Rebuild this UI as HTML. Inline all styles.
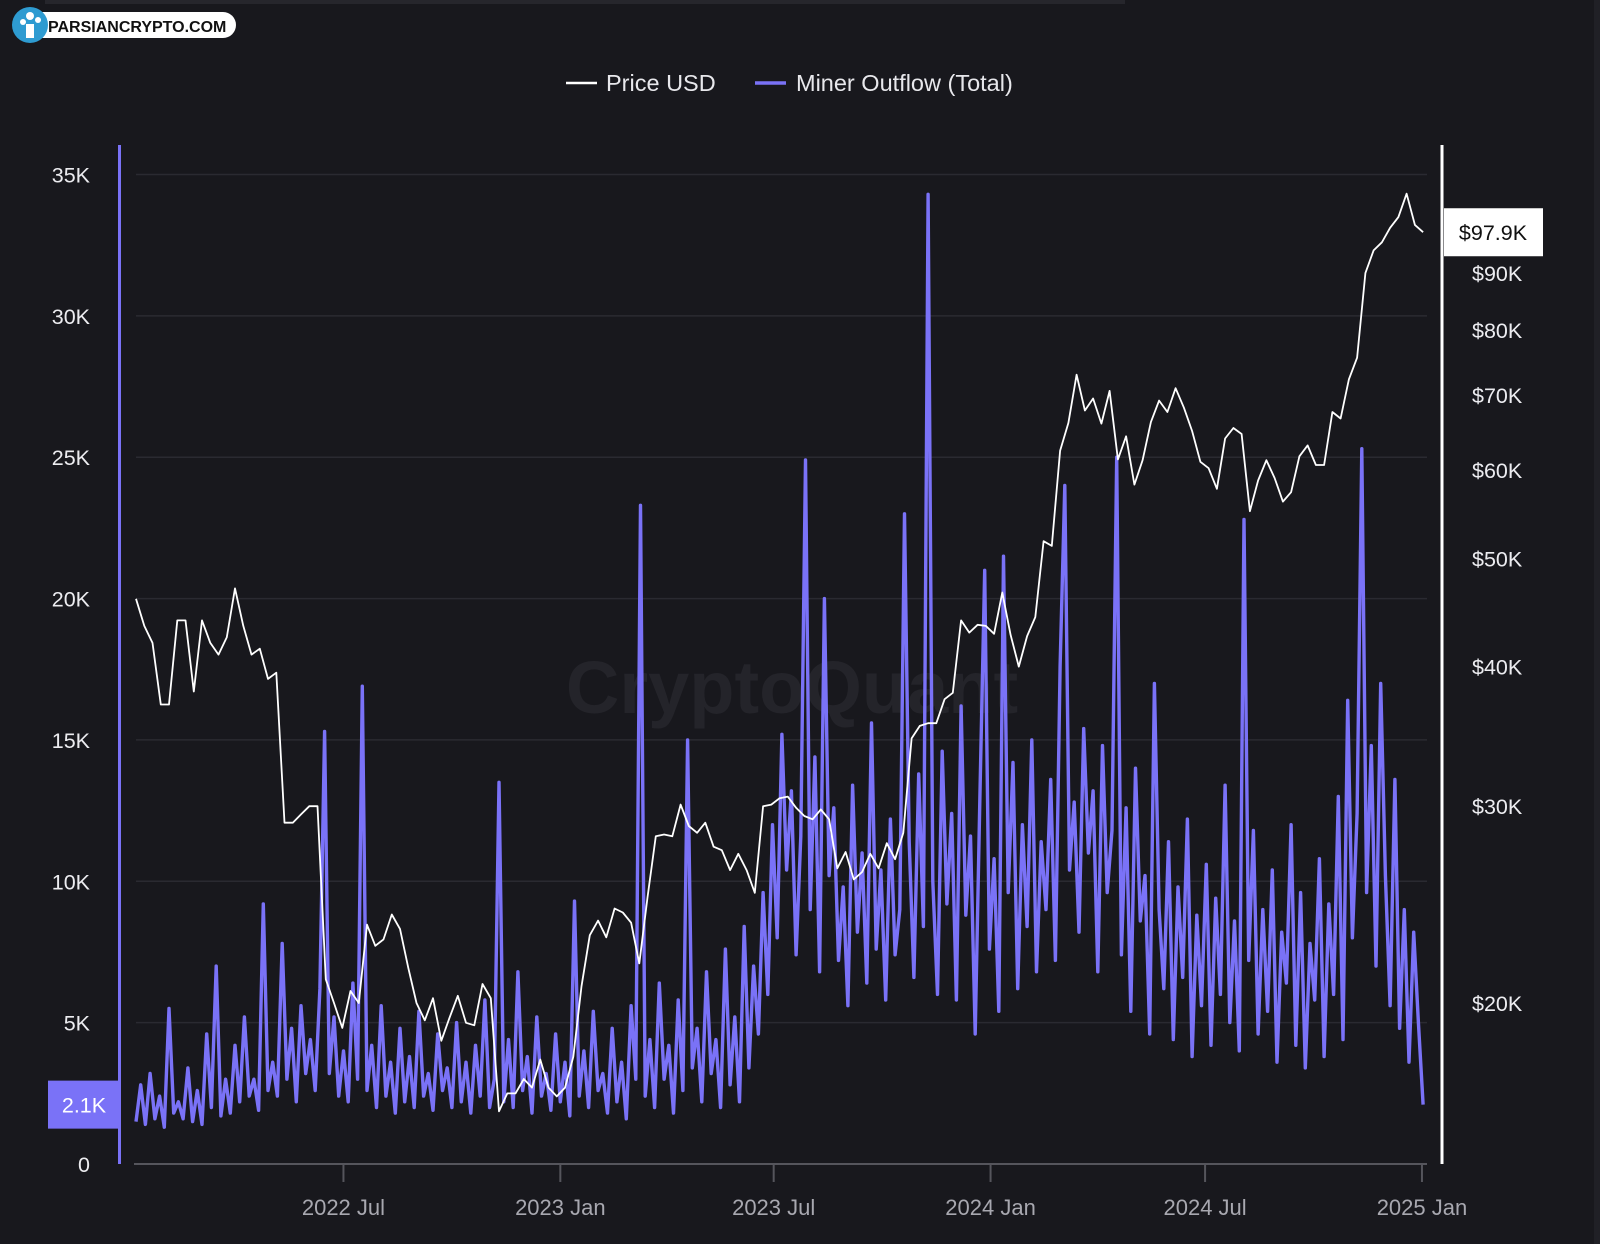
<!DOCTYPE html>
<html><head><meta charset="utf-8"><style>
html,body{margin:0;padding:0;background:#18181d;}
svg{display:block;font-family:"Liberation Sans",sans-serif;}
</style></head><body>
<svg id="chart" width="1600" height="1244" viewBox="0 0 1600 1244">
<rect x="0" y="0" width="1600" height="1244" fill="#18181d"/>
<rect x="45" y="0" width="1080" height="4" fill="#26262c"/>
<rect x="1594" y="0" width="6" height="1244" fill="#202026"/>
<g>
<rect x="26" y="12" width="210" height="26" rx="13" fill="#fff"/>
<circle cx="30" cy="25" r="18" fill="#2e9bd1"/>
<circle cx="30" cy="16" r="4" fill="#fff"/><circle cx="23" cy="22" r="3" fill="#fff"/><circle cx="38" cy="20" r="3" fill="#fff"/>
<rect x="26" y="24" width="8" height="14" fill="#fff"/>
<text x="48" y="32" font-size="16" font-weight="bold" fill="#111">PARSIANCRYPTO.COM</text>
</g>
<g>
<g><line x1="566" y1="83" x2="597" y2="83" stroke="#fff" stroke-width="2.5"/><text x="606" y="91" font-size="23.5" fill="#e8e8ec">Price USD</text></g>
<g><line x1="755" y1="83" x2="786" y2="83" stroke="#7a72f7" stroke-width="3.5"/><text x="796" y="91" font-size="23.5" fill="#e8e8ec">Miner Outflow (Total)</text></g>
</g>
<text x="792" y="713" font-size="74" font-weight="bold" fill="#24242a" text-anchor="middle">CryptoQuant</text>
<g id="grid"></g><g id="series"></g><g id="axes"></g>
</svg>
<script>
const outflowK = [
1.5,2.8,1.4,3.2,1.6,2.4,1.3,5.5,1.8,2.2,
1.6,3.4,1.5,2.6,1.4,4.6,2.0,7.0,1.7,3.0,
1.8,4.2,2.2,5.2,2.4,3.0,1.9,9.2,2.6,3.6,
2.4,7.8,3.0,4.8,2.2,5.6,3.2,4.4,2.6,6.2,
15.3,3.2,5.2,2.4,4.0,2.2,6.4,3.0,16.9,2.6,
4.2,2.0,5.6,2.4,3.6,1.8,4.8,2.2,3.8,2.0,
5.4,2.4,3.2,1.9,4.6,2.6,3.4,2.0,5.0,2.2,
3.6,1.8,4.2,2.4,5.8,2.0,3.0,13.5,2.2,4.4,
2.0,6.8,2.6,3.8,1.8,5.2,2.4,3.2,1.9,4.6,
2.2,3.6,1.7,9.3,2.4,4.0,2.0,5.4,2.6,3.2,
1.8,4.8,2.2,3.6,1.6,5.6,3.0,23.3,2.4,4.4,
2.0,6.4,3.0,4.2,1.8,5.8,2.6,15.0,3.4,4.8,
2.2,6.8,3.2,4.4,2.0,7.6,2.8,5.2,2.2,8.4,
3.4,7.0,4.6,9.6,6.0,12.0,8.0,15.2,10.4,13.2,
7.4,11.6,24.9,9.0,14.4,6.8,20.0,10.2,12.6,7.2,
9.8,5.6,13.4,8.2,11.0,6.4,15.6,7.6,10.4,5.8,
12.2,7.4,9.0,23.0,11.4,6.6,13.8,8.4,34.3,10.0,
6.0,14.6,9.2,12.4,5.8,16.2,8.8,11.6,4.6,13.0,
21.0,7.6,10.8,5.4,21.5,9.6,14.2,6.2,12.0,8.4,
15.0,6.8,11.4,9.0,13.6,7.2,17.6,24.0,10.4,12.8,
8.2,15.4,11.0,13.2,6.8,14.8,9.6,11.8,25.0,7.4,
12.6,5.4,14.0,8.6,10.2,4.6,17.0,9.0,6.2,11.4,
4.4,9.8,6.6,12.2,3.8,8.8,5.6,10.6,4.2,9.4,
6.0,13.4,5.0,8.6,4.0,22.8,7.2,11.8,4.6,9.0,
5.4,10.4,3.6,8.2,6.4,12.0,4.2,9.6,3.4,7.8,
5.8,10.8,3.8,9.2,6.0,13.0,4.4,16.4,8.0,12.4,
25.3,9.6,14.8,7.0,17.0,10.2,5.6,13.6,4.8,9.0,
3.6,8.2,5.0,2.1];
const priceK = [
46,43.5,42,37,37,44,44,38,44,42,41,42.5,47,43.5,41,41.5,39,39.5,29,29,29.5,30,30,21,20,19,20.5,20,23.5,22.5,22.8,24,23.3,21.5,20,19.3,20.2,18.5,19.4,20.3,19.2,19.1,20.8,20.2,16,16.6,16.6,17.1,16.8,17.8,16.8,16.5,
16.8,17.9,20.7,23,23.7,22.9,24.3,24.1,23.6,21.7,24.9,28.2,28.3,28.2,30.1,28.8,28.4,29,27.6,27.4,26.3,27.2,26.3,25.1,30,30.1,30.5,30.6,29.9,29.4,29.2,29.8,29.2,26.4,27.3,25.8,26.2,27.2,26.4,27.8,26.9,28.4,34.5,35.4,35.6,35.6,37.4,37.9,44,42.9,43.6,43.5,
42.8,46.6,42.7,40,42.6,44.3,51.8,51.3,62.4,66.1,73,67.8,69.5,66,70.6,61.3,64.3,58.2,61.2,66.2,69.2,67.6,71,68.2,65,61,60.2,57.7,64,65.4,64.6,55.1,58.7,61.2,59,56.2,57.3,61.7,63.1,60.6,60.6,67.6,66.7,72.3,75.6,90,94.3,95.9,98.8,101,106,99.4,
97.9];
const leftTicks = [0,5,10,15,20,25,30,35];
const leftTickLabels = ["0","5K","10K","15K","20K","25K","30K","35K"];
const rightTicks = [20,30,40,50,60,70,80,90];
const rightTickLabels = ["$20K","$30K","$40K","$50K","$60K","$70K","$80K","$90K"];
const xTickDays = [176,360,541,725,907,1091];
const xTickLabels = ["2022 Jul","2023 Jan","2023 Jul","2024 Jan","2024 Jul","2025 Jan"];
const outflowStepDays = 4, priceStepDays = 7;

const NS="http://www.w3.org/2000/svg";
const X0=136, PX_PER_DAY=1.1787, Y0=1164, LPX=(1164-174.5)/35;
const xDay=d=>X0+d*PX_PER_DAY;
const yLeft=v=>Y0-v*LPX;
const yRight=v=>1003-Math.log(v/20)*485.3;
function mk(tag,attrs,parent){const e=document.createElementNS(NS,tag);for(const k in attrs)e.setAttribute(k,attrs[k]);parent.appendChild(e);return e;}
const grid=document.getElementById('grid'),series=document.getElementById('series'),axes=document.getElementById('axes');
leftTicks.forEach((t,i)=>{
 if(t>0){const g=mk('line',{x1:136,x2:1427,y1:yLeft(t),y2:yLeft(t),stroke:'#2a2a31','stroke-width':1.5},grid);
 
 }
 const tx=mk('text',{x:90,y:yLeft(t)+8,'font-size':21.5,fill:'#ececf0','text-anchor':'end'},axes);tx.textContent=leftTickLabels[i];
 
 
});
rightTicks.forEach((t,i)=>{
 const tx=mk('text',{x:1472,y:yRight(t)+8,'font-size':21.5,fill:'#ececf0'},axes);tx.textContent=rightTickLabels[i];
 
 
});
xTickDays.forEach((d,i)=>{
 const l=mk('line',{x1:xDay(d),x2:xDay(d),y1:1164,y2:1182,stroke:'#55555c','stroke-width':2},axes);
 
 
 const tx=mk('text',{x:xDay(d),y:1215,'font-size':22,fill:'#a8a8b0','text-anchor':'middle'},axes);tx.textContent=xTickLabels[i];
 
 
});
const xa=mk('line',{x1:134,x2:1427,y1:1164,y2:1164,stroke:'#55555c','stroke-width':2},axes);


const la=mk('line',{x1:119.5,x2:119.5,y1:145,y2:1164,stroke:'#7a72f7','stroke-width':3},axes);


const ra=mk('line',{x1:1442,x2:1442,y1:145,y2:1164,stroke:'#ffffff','stroke-width':3},axes);


const op=mk('path',{d:outflowK.map((v,i)=>(i?'L':'M')+xDay(i*outflowStepDays).toFixed(1)+','+yLeft(v).toFixed(1)).join(''),fill:'none',stroke:'#7a72f7','stroke-width':3.4,'stroke-linejoin':'round'},series);


const pp=mk('path',{d:priceK.map((v,i)=>(i?'L':'M')+xDay(Math.min(i*priceStepDays,1092)).toFixed(1)+','+yRight(v).toFixed(1)).join(''),fill:'none',stroke:'#ffffff','stroke-width':1.8,'stroke-linejoin':'round'},series);


const lastO=outflowK[outflowK.length-1], lastP=priceK[priceK.length-1];
const ob=mk('g',{},axes);


mk('rect',{x:48,y:yLeft(lastO)-24,width:72,height:48,fill:'#7a72f7'},ob);
const obt=mk('text',{x:84,y:yLeft(lastO)+8,'font-size':21.5,fill:'#fff','text-anchor':'middle'},ob);obt.textContent=lastO.toFixed(1)+'K';
const pb=mk('g',{},axes);


mk('rect',{x:1444,y:yRight(lastP)-24,width:99,height:48,fill:'#ffffff'},pb);
const pbt=mk('text',{x:1493,y:yRight(lastP)+8,'font-size':21.5,fill:'#111','text-anchor':'middle'},pb);pbt.textContent='$'+lastP.toFixed(1)+'K';
</script>
</body></html>
